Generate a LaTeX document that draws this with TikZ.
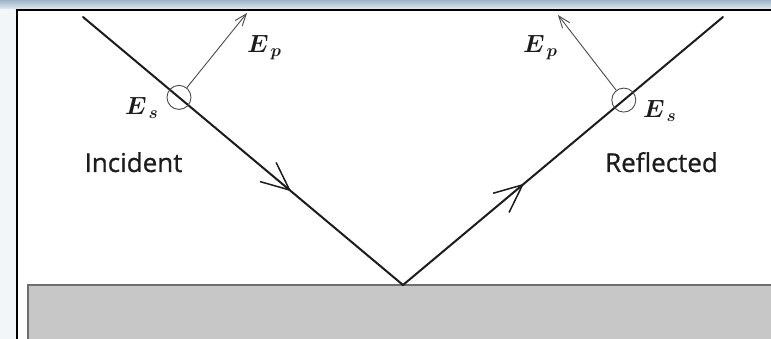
\documentclass[tikz,border=0pt]{standalone}
\usepackage{fontspec}
\newfontfamily\lblfont[FakeBold=0.7]{Open Sans}
\usetikzlibrary{arrows.meta,calc,decorations.markings}
\definecolor{rayc}{HTML}{1C1C1C}
\definecolor{polc}{HTML}{4A4A4A}
\definecolor{surf}{HTML}{C7C7C7}
\definecolor{surfedge}{HTML}{6E6E6E}
\definecolor{bandtop}{HTML}{9DB3C6}
\definecolor{bandbot}{HTML}{E2EBF2}
\definecolor{sidec}{HTML}{F2F6F9}
\begin{document}
\begin{tikzpicture}[x=1pt,y=-1pt,
  ray/.style={line width=2pt, draw=rayc, line cap=round},
  midarrow/.style={postaction={decorate}, decoration={markings,
     mark=at position #1 with {\arrow[line width=1.5pt, rayc]{Straight Barb[length=28pt,width=25pt]}}}},
  pol/.style={line width=0.9pt, draw=polc, -{Straight Barb[length=12pt,width=9pt]}},
  sring/.style={circle, draw=polc, line width=0.9pt, minimum size=24pt, inner sep=0pt},
  elabel/.style={inner sep=0pt, text=rayc, font=\fontsize{27}{30}\selectfont\boldmath},
  wlabel/.style={inner sep=0pt, font=\lblfont\fontsize{26}{30}\selectfont, text=rayc}
]
\useasboundingbox (0,0) rectangle (771,339);
\fill[white] (0,0) rectangle (771,339);
\fill[sidec] (0,9) rectangle (15.5,339);
\shade[top color=bandtop, bottom color=bandbot] (0,0) rectangle (771,9);
% frame
\draw[line width=2.5pt, black] (15.5,10) -- (771,10);
\draw[line width=2pt, black] (16.5,9) -- (16.5,339);
% surface
\filldraw[fill=surf, draw=surfedge, line width=2pt] (28,285) rectangle (775,345);
% rays
\coordinate (I) at (83,17);
\coordinate (V) at (403,285);
\coordinate (R) at (723,17);
\draw[ray, midarrow=0.65] (I) -- (V);
\draw[ray, midarrow=0.378] (V) -- (R);
% polarisation markers
\node[sring] (cs1) at ($(I)!0.30!(V)$) {};
\node[sring] (cs2) at ($(R)!0.31!(V)$) {};
\coordinate (tp1) at (247,13);
\coordinate (tp2) at (558,15);
\draw[pol] (cs1) -- (tp1);
\draw[pol] (cs2) -- (tp2);
% labels
\node[elabel, anchor=base west] (es1) at (125,115) {$E_{\,s}$};
\node[elabel, anchor=base west] (ep1) at (247,53) {$E_{\,p}$};
\node[elabel, anchor=base west] (ep2) at (523,53) {$E_{\,p}$};
\node[elabel, anchor=base west] (es2) at (643,118) {$E_{\,s}$};
\node[wlabel, anchor=base] (inc) at (133.5,172) {Incident};
\node[wlabel, anchor=base] (ref) at (661.5,172) {Reflected};
\end{tikzpicture}
\end{document}
